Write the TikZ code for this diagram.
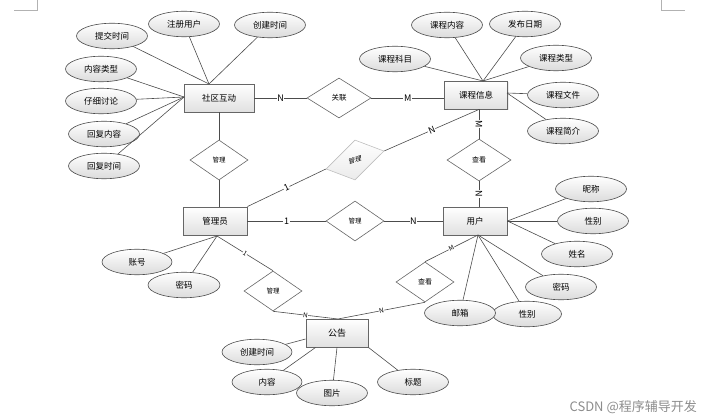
\documentclass[tikz,border=0pt]{standalone}
\usepackage{fontspec}
\setmainfont{Noto Sans CJK SC}
\usetikzlibrary{shapes.geometric,shadows}

\begin{document}
\begin{tikzpicture}[x=1pt,y=-1pt,
    ent/.style={rectangle, draw=black!60, line width=0.9pt, top color=white, bottom color=black!12,
      minimum width=64pt, minimum height=28pt, inner sep=0pt, font=\fontsize{8.5}{10}\selectfont,
      drop shadow={opacity=0.15, shadow xshift=1pt, shadow yshift=-1pt}},
    rel/.style={diamond, draw=black!60, line width=0.6pt, fill=white, minimum width=58pt,
      minimum height=40pt, inner sep=0pt, font=\fontsize{6.5}{8}\selectfont},
    attr/.style={ellipse, draw=black!70, line width=0.6pt, top color=white, bottom color=black!14,
      minimum width=71pt, minimum height=25.5pt, inner sep=0pt, font=\fontsize{8.5}{10}\selectfont},
    lab/.style={fill=white, inner sep=0.6pt, font=\fontsize{9}{9}\selectfont},
    slab/.style={fill=white, inner sep=0.4pt, font=\fontsize{6.5}{7}\selectfont},
    link/.style={draw=black!70, line width=0.6pt}]
  \useasboundingbox (0,0) rectangle (708,419);
  % crop marks
  \draw[black!30] (14,10) -- (37,10) -- (37,0);
  \draw[black!30] (661,0) -- (661,10) -- (685,10);
  % entities
  \node[ent, minimum width=70pt] (shequ) at (219,98) {社区互动};
  \node[ent, minimum width=63pt] (kecheng) at (476,95) {课程信息};
  \node[ent] (admin) at (215,221) {管理员};
  \node[ent] (user) at (475,221) {用户};
  \node[ent, minimum width=62pt, font=\fontsize{9}{10}\selectfont] (notice) at (337,333) {公告};
  % relations
  \node[rel] (gl1) at (219,160) {管理};
  \node[rel, minimum width=64pt, font=\fontsize{7.5}{8}\selectfont] (guanlian) at (339,98) {关联};
  \node[rel, yslant=0.31, draw=black!25, top color=white, bottom color=black!8] (gl2) at (355,160) {管理};
  \node[rel] (gl3) at (355,221) {管理};
  \node[rel, minimum width=64pt, minimum height=42pt, font=\fontsize{7}{8}\selectfont] (ck1) at (479,160) {查看};
  \node[rel] (gl4) at (273,291) {管理};
  \node[rel, font=\fontsize{7}{8}\selectfont] (ck2) at (425,282) {查看};
  % attributes of 社区互动
  \node[attr] (a1) at (112,36) {提交时间};
  \node[attr] (a2) at (184,24) {注册用户};
  \node[attr] (a3) at (270,25) {创建时间};
  \node[attr] (a4) at (101,69) {内容类型};
  \node[attr] (a5) at (101,101) {仔细讨论};
  \node[attr] (a6) at (104,134) {回复内容};
  \node[attr] (a7) at (104,166) {回复时间};
  % attributes of 课程信息
  \node[attr] (b1) at (395,59) {课程科目};
  \node[attr] (b2) at (447,25) {课程内容};
  \node[attr] (b3) at (525,24) {发布日期};
  \node[attr] (b4) at (556,58) {课程类型};
  \node[attr] (b5) at (563,95) {课程文件};
  \node[attr] (b6) at (563,131) {课程简介};
  % attributes of 用户
  \node[attr] (c1) at (591,189) {昵称};
  \node[attr] (c2) at (593,221) {性别};
  \node[attr] (c3) at (577,254) {姓名};
  \node[attr] (c4) at (561,287) {密码};
  \node[attr, minimum width=69pt] (c5) at (527,314) {性别};
  \node[attr] (c6) at (460,313) {邮箱};
  % attributes of 管理员
  \node[attr, minimum width=70pt] (d1) at (137,262) {账号};
  \node[attr, minimum width=72pt] (d2) at (184,285) {密码};
  % attributes of 公告
  \node[attr, minimum width=70pt] (e1) at (257,352) {创建时间};
  \node[attr, minimum width=70pt] (e2) at (267,382) {内容};
  \node[attr] (e3) at (332,393) {图片};
  \node[attr] (e4) at (413,382) {标题};
  % meeting points
  \coordinate (st) at (209,84);
  \coordinate (sl) at (184,97);
  \coordinate (kt) at (483,81);
  \coordinate (ke) at (507,93);
  \coordinate (ub) at (478,235);
  \coordinate (ab) at (217,236);
  \coordinate (nt) at (338,319);
  % attribute links
  \draw[link] (a1) -- (st);
  \draw[link] (a2) -- (st);
  \draw[link] (a3) -- (st);
  \draw[link] (a4) -- (sl);
  \draw[link] (a5) -- (sl);
  \draw[link] (a6) -- (sl);
  \draw[link] (a7) -- (sl);
  \draw[link] (b1) -- (kt);
  \draw[link] (b2) -- (kt);
  \draw[link] (b3) -- (kt);
  \draw[link] (b4) -- (kt);
  \draw[link] (b5) -- (ke);
  \draw[link] (b6) -- (ke);
  \draw[link] (c1) -- (user.east);
  \draw[link] (c2) -- (user.east);
  \draw[link] (c3) -- (user.east);
  \draw[link] (c4) -- (ub);
  \draw[link] (c5) -- (ub);
  \draw[link] (c6) -- (ub);
  \draw[link] (d1) -- (ab);
  \draw[link] (d2) -- (ab);
  \draw[link] (e1) -- ([yshift=-6pt]notice.west);
  \draw[link] (e2) -- ([xshift=10pt]notice.south west);
  \draw[link] (e3) -- (notice.south);
  \draw[link] (e4) -- (notice.south east);
  % relation links
  \draw[link] (shequ) -- node[lab]{N} (guanlian);
  \draw[link] (guanlian.east) -- node[lab]{M} (guanlian.east -| kecheng.west);
  \draw[link] (shequ.south -| gl1.north) -- (gl1.north);
  \draw[link] (gl1.south) -- (gl1.south |- admin.north);
  \draw[link] (admin.north east) -- node[lab, sloped]{1} (gl2.west);
  \draw[link] (gl2.east) -- node[lab, sloped]{N} ([xshift=3pt]kecheng.south);
  \draw[link] (admin.east) -- node[lab]{1} (gl3.west);
  \draw[link] (gl3.east) -- node[lab]{N} (gl3.east -| user.west);
  \draw[link] (ck1.north |- kecheng.south) -- node[lab, sloped]{M} (ck1.north);
  \draw[link] (ck1.south) -- node[lab, sloped]{N} (ck1.south |- user.north);
  \draw[link] (ab) -- node[slab, sloped]{1} (gl4.north);
  \draw[link] (gl4.south) -- node[slab, sloped]{N} (nt);
  \draw[link] (ub) -- node[slab, sloped]{M} (ck2.north);
  \draw[link] (ck2.south) -- node[slab, sloped]{N} (nt);
  % watermark
  \node[anchor=base east, text=black!45, inner sep=0pt, font=\fontsize{13}{13}\selectfont] (wm) at (697,411) {CSDN @程序辅导开发};
\end{tikzpicture}
\end{document}
